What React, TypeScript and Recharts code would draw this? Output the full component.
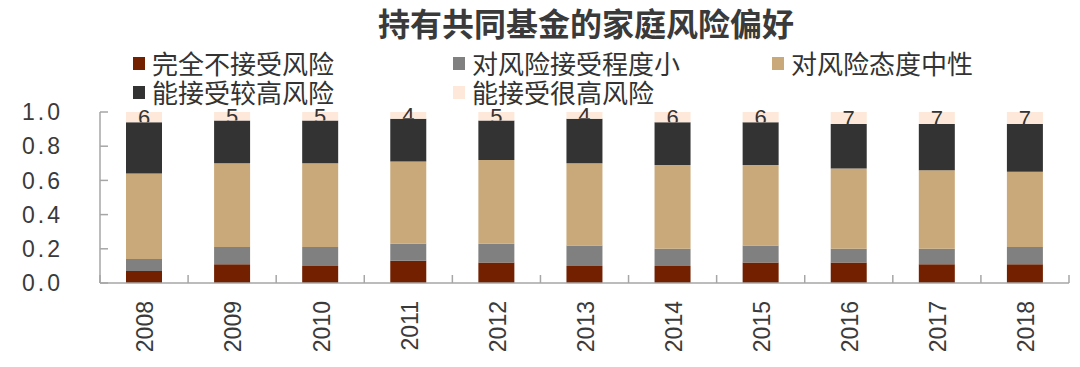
import React from 'react';
import { BarChart, Bar, XAxis, YAxis, LabelList } from 'recharts';

const years = ['2008', '2009', '2010', '2011', '2012', '2013', '2014', '2015', '2016', '2017', '2018'];
const noRisk = [0.07, 0.11, 0.10, 0.13, 0.12, 0.10, 0.10, 0.12, 0.12, 0.11, 0.11];
const lowRisk = [0.07, 0.10, 0.11, 0.10, 0.11, 0.12, 0.10, 0.10, 0.08, 0.09, 0.10];
const neutral = [0.50, 0.49, 0.49, 0.48, 0.49, 0.48, 0.49, 0.47, 0.47, 0.46, 0.44];
const highRisk = [0.30, 0.25, 0.25, 0.25, 0.23, 0.26, 0.25, 0.25, 0.26, 0.27, 0.28];
const veryHigh = [0.06, 0.05, 0.05, 0.04, 0.05, 0.04, 0.06, 0.06, 0.07, 0.07, 0.07];
const yTicks = [0, 0.2, 0.4, 0.6, 0.8, 1.0];

const seriesNames = ['完全不接受风险', '对风险接受程度小', '对风险态度中性', '能接受较高风险', '能接受很高风险'];
const seriesKeys = ['noRisk', 'lowRisk', 'neutral', 'highRisk', 'veryHigh'];
const colors = ['#722000', '#808080', '#C9A97A', '#333333', '#FDE8D9'];
const title = '持有共同基金的家庭风险偏好';

const data = years.map((y, i) => ({
  year: y,
  noRisk: noRisk[i],
  lowRisk: lowRisk[i],
  neutral: neutral[i],
  highRisk: highRisk[i],
  veryHigh: veryHigh[i],
}));

const W = 1080;
const H = 367;
const LEFT = 100;
const RIGHT_M = 11;
const TOP = 112;
const XH = 84;
const BAND = (W - LEFT - RIGHT_M) / years.length;
const AXIS_COLOR = '#a6a6a6';
const TEXT_COLOR = '#333333';
const NUM_FONT = '"Liberation Sans", Arial, sans-serif';
const CJK_FONT = '"Noto Sans CJK SC", "Noto Sans", sans-serif';

const YTick = (props: any) => {
  const { x, y, payload } = props;
  return (
    <g>
      <line x1={x} x2={x + 8} y1={y} y2={y} stroke={AXIS_COLOR} strokeWidth={1.5} />
      <text x={x - 37} y={y} dy="0.36em" textAnchor="end" fontSize={23} fill="#3a3a3a"
        fontFamily={NUM_FONT} letterSpacing={3}>
        {Number(payload.value).toFixed(1)}
      </text>
    </g>
  );
};

const XTick = (props: any) => {
  const { x, y, payload, index } = props;
  const last = index === years.length - 1;
  return (
    <g>
      <line x1={x - BAND / 2} x2={x - BAND / 2} y1={y} y2={y - 8} stroke={AXIS_COLOR} strokeWidth={1.5} />
      {last && <line x1={x + BAND / 2} x2={x + BAND / 2} y1={y} y2={y - 8} stroke={AXIS_COLOR} strokeWidth={1.5} />}
      <text transform={`translate(${x + 1},${y + 18}) rotate(-90)`} textAnchor="end" dy="0.36em"
        fontSize={23} fill="#3a3a3a" fontFamily={NUM_FONT}>
        {payload.value}
      </text>
    </g>
  );
};

const TopLabel = (props: any) => {
  const { x, y, width, height, value, index } = props;
  const id = `lblclip-${index}`;
  return (
    <g>
      <defs>
        <clipPath id={id}>
          <rect x={x - 10} y={y - 20} width={width + 20} height={height + 20} />
        </clipPath>
      </defs>
      <text x={x + width / 2} y={y + height / 2} dy="0.36em" textAnchor="middle" fontSize={22}
        fill={TEXT_COLOR} fontFamily={NUM_FONT} clipPath={`url(#${id})`}>
        {Math.round(Number(value) * 100)}
      </text>
    </g>
  );
};

const legendPos = [
  { left: 133, top: 48 },
  { left: 453, top: 48 },
  { left: 772, top: 48 },
  { left: 133, top: 77 },
  { left: 453, top: 77 },
];

const Header = () => (
  <div style={{ position: 'absolute', left: 0, top: 0, width: W, height: 110, pointerEvents: 'none' }}>
    <div style={{
      position: 'absolute', left: 586 - 300, top: 3, width: 600, textAlign: 'center',
      fontFamily: CJK_FONT, fontWeight: 700, fontSize: 32, lineHeight: '38px', color: '#3a3a3a',
    }}>{title}</div>
    {seriesNames.map((n, i) => (
      <div key={n} style={{
        position: 'absolute', left: legendPos[i].left, top: legendPos[i].top,
        display: 'flex', alignItems: 'center', height: 30,
      }}>
        <span style={{ display: 'inline-block', width: 12, height: 13, background: colors[i], marginRight: 7 }} />
        <span style={{ fontFamily: CJK_FONT, fontSize: 26, color: TEXT_COLOR, lineHeight: '30px', whiteSpace: 'nowrap' }}>{n}</span>
      </div>
    ))}
  </div>
);

export default function App() {
  return (
    <div style={{ position: 'absolute', left: 0, top: 0, width: W, height: H, background: '#fff' }}>
      <BarChart width={W} height={H} data={data} margin={{ top: TOP, right: RIGHT_M, bottom: 0, left: 0 }}>
        <XAxis dataKey="year" height={XH} tickSize={0} tickMargin={0} tickLine={false}
          axisLine={{ stroke: AXIS_COLOR, strokeWidth: 1.5 }} tick={<XTick />} interval={0} />
        <YAxis width={LEFT} domain={[0, 1]} ticks={yTicks} allowDataOverflow tickSize={0} tickMargin={0}
          tickLine={false} axisLine={{ stroke: AXIS_COLOR, strokeWidth: 1.5 }} tick={<YTick />} interval={0} />
        {seriesKeys.map((k, i) => (
          <Bar key={k} dataKey={k} name={seriesNames[i]} stackId="a" fill={colors[i]} barSize={36}
            isAnimationActive={false}>
            {k === 'veryHigh' && <LabelList dataKey={k} content={<TopLabel />} />}
          </Bar>
        ))}
      </BarChart>
      <Header />
    </div>
  );
}
